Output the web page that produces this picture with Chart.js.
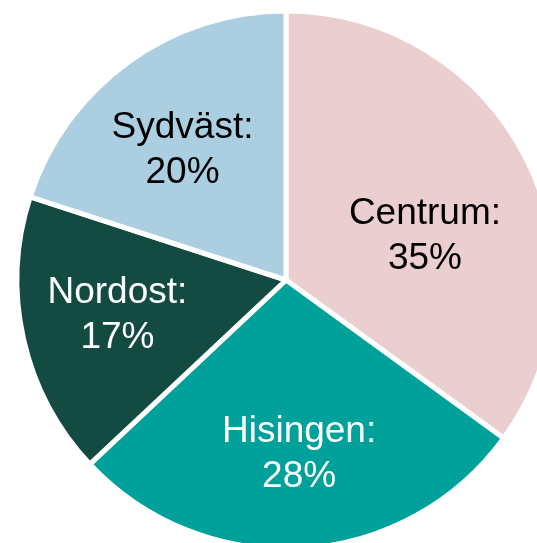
<!DOCTYPE html>
<html><head><meta charset="utf-8">
<script src="https://cdn.jsdelivr.net/npm/chart.js@4/dist/chart.umd.min.js"></script>
<style>
html,body{margin:0;padding:0;background:#fff;overflow:hidden;width:537px;height:543px;}
#wrap{position:absolute;left:0;top:0;width:572px;height:560px;}
</style></head>
<body><div id="wrap"><canvas id="c"></canvas></div>
<script>
const categories = ["Centrum", "Hisingen", "Nordost", "Sydväst"];
const shares = [35, 28, 17, 20];
const colors = ["#EBCFD0", "#00A19A", "#134B42", "#ABCFE0"];
const labelColors = ["#000000", "#FFFFFF", "#FFFFFF", "#000000"];
// label placement: [angle shift (deg), radial fraction]
const labelPlace = [[9.4, 0.542], [-0.7, 0.649], [0.9, 0.64], [-2.5, 0.618]];

const labelPlugin = {
  id: 'sliceLabels',
  afterDatasetsDraw(chart) {
    const ctx = chart.ctx;
    const meta = chart.getDatasetMeta(0);
    meta.data.forEach((arc, i) => {
      const p = arc.getProps(['x','y','startAngle','endAngle','outerRadius']);
      const mid = (p.startAngle + p.endAngle) / 2 + labelPlace[i][0] * Math.PI / 180;
      const r = p.outerRadius * labelPlace[i][1];
      const x = p.x + Math.cos(mid) * r;
      const y = p.y + Math.sin(mid) * r;
      ctx.save();
      ctx.fillStyle = labelColors[i];
      ctx.font = '37px "Liberation Sans"';
      ctx.textAlign = 'center';
      ctx.textBaseline = 'alphabetic';
      ctx.fillText(categories[i] + ':', x, y - 12);
      ctx.fillText(shares[i] + '%', x, y + 33);
      ctx.restore();
    });
  }
};

new Chart(document.getElementById('c'), {
  type: 'pie',
  data: {
    labels: categories,
    datasets: [{
      data: shares,
      backgroundColor: colors,
      borderColor: '#FFFFFF',
      borderWidth: 5,
      hoverOffset: 0
    }]
  },
  options: {
    responsive: true,
    maintainAspectRatio: false,
    animation: false,
    radius: 269,
    layout: { padding: 0 },
    plugins: { legend: { display: false }, tooltip: { enabled: false } }
  },
  plugins: [labelPlugin]
});
</script>
</body></html>
